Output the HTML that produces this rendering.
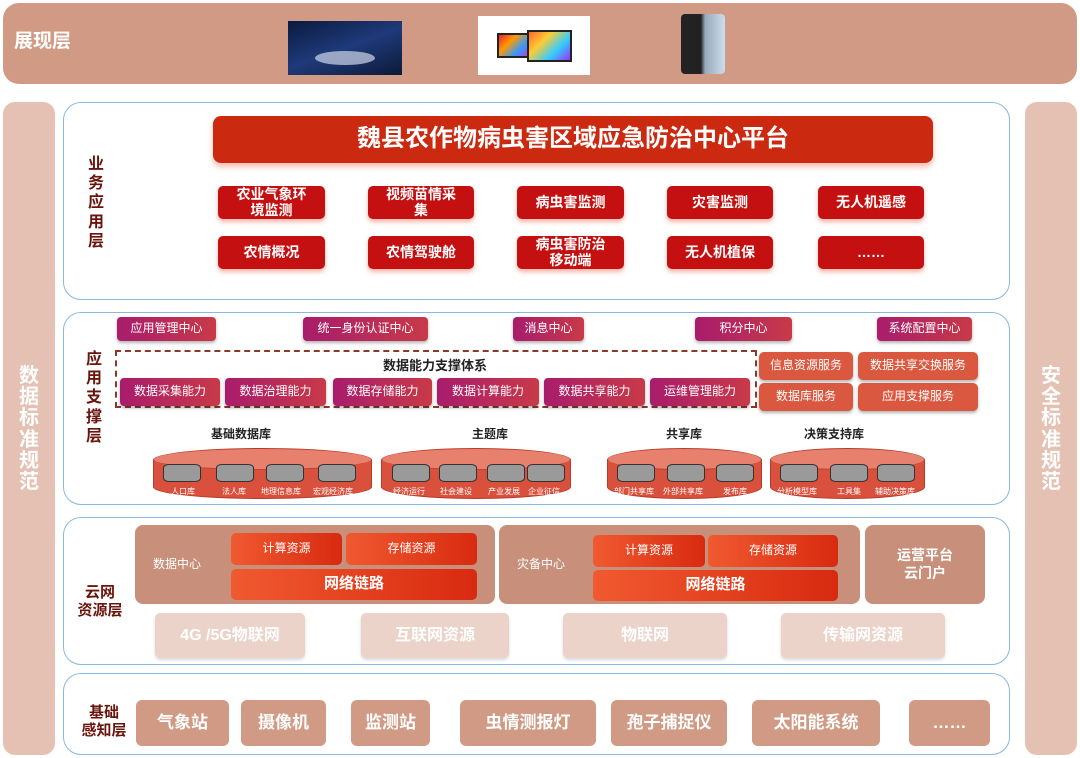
<!DOCTYPE html>
<html><head><meta charset="utf-8"><style>
*{margin:0;padding:0;box-sizing:border-box}
body{width:1080px;height:758px;background:#fff;position:relative;overflow:hidden;font-family:"Liberation Sans","Noto Sans CJK SC",sans-serif;font-weight:bold}
.a{position:absolute;display:flex;align-items:center;justify-content:center;text-align:center;line-height:1.1}
.lay{position:absolute;left:63px;width:947px;border:1.5px solid #8bb8e0;border-radius:18px;background:#fff}
.red{background:#c41010;color:#fff;border-radius:5px;font-size:14px;box-shadow:0 3px 5px rgba(230,90,60,.45)}
.mag{background:linear-gradient(90deg,#a81c6c,#c83a48);color:#fff;border-radius:4px;font-size:12px;font-weight:normal;box-shadow:0 2px 3px rgba(0,0,0,.3)}
.svc{background:#d9583f;color:#fff;border-radius:5px;font-size:12px;font-weight:normal;box-shadow:0 2px 3px rgba(0,0,0,.3)}
.or{background:linear-gradient(90deg,#f05a30,#d82a10);color:#fff;border-radius:5px;font-size:12px;font-weight:normal}
.lt{background:#ebd3c9;color:#fff;border-radius:5px;font-size:16px;box-shadow:0 2px 3px rgba(0,0,0,.15)}
.tan{background:#d09a84;color:#fff;border-radius:6px;font-size:17px}
.vl{position:absolute;color:#6a140c;font-size:16px;line-height:1.2;text-align:center}
.cyl{position:absolute;background:#d9503c;border-radius:50%/12px;border:1px solid #b83a2a}
.cyl:before{content:"";position:absolute;left:0;right:0;top:0;height:20px;border-radius:50%;background:#e8806e;border-bottom:1px solid #c24030}
.sc{position:absolute;width:38px;height:18px;background:#9a9a9a;border:1.5px solid #333;border-radius:6px/4px}
.sl{position:absolute;font-size:8px;color:#fff;font-weight:normal;white-space:nowrap}
</style></head><body>
<div class="a" style="left:3px;top:3px;width:1074px;height:81px;background:#d09a84;border-radius:16px"></div>
<div class="a" style="left:14px;top:32px;color:#fff;font-size:19px">展现层</div>
<div class="a" style="left:288px;top:21px;width:114px;height:54px;background:linear-gradient(160deg,#0a1a40,#1f3a7a 50%,#0c1a38)"><div style="width:60px;height:14px;background:#cfd7e8;border-radius:50%;opacity:.7;margin-top:20px"></div></div>
<div class="a" style="left:478px;top:16px;width:112px;height:59px;background:#fff"><div style="width:36px;height:25px;background:linear-gradient(135deg,#e23,#f90,#39f,#c3c);border:2px solid #222;margin-right:-6px"></div><div style="width:45px;height:32px;background:linear-gradient(135deg,#f63,#fc3,#3cf,#93f);border:2px solid #222"></div></div>
<div class="a" style="left:681px;top:14px;width:44px;height:60px;background:linear-gradient(90deg,#222 45%,#9ab 55%,#cde);border-radius:4px"></div>
<div style="position:absolute;left:3px;top:102px;width:52px;height:653px;background:#e5c1b3;border-radius:12px"></div>
<div style="position:absolute;left:1025px;top:102px;width:52px;height:653px;background:#e5c1b3;border-radius:12px"></div>
<div class="vl" style="left:17px;top:366px;width:24px;color:#fff;font-size:20px;line-height:1.06">数据标准规范</div>
<div class="vl" style="left:1039px;top:366px;width:24px;color:#fff;font-size:20px;line-height:1.06">安全标准规范</div>

<div class="lay" style="top:102px;height:198px"></div>
<div class="vl" style="left:86px;top:155px;width:20px">业务应用层</div>
<div class="a" style="left:213px;top:116px;width:720px;height:47px;background:#cc2a10;border-radius:8px;color:#fff;font-size:24px;box-shadow:0 4px 6px rgba(230,90,60,.4)">魏县农作物病虫害区域应急防治中心平台</div>
<div class="a red" style="left:218px;top:186px;width:107px;height:33px">农业气象环<br>境监测</div>
<div class="a red" style="left:368px;top:186px;width:106px;height:33px">视频苗情采<br>集</div>
<div class="a red" style="left:517px;top:186px;width:107px;height:33px">病虫害监测</div>
<div class="a red" style="left:667px;top:186px;width:106px;height:33px">灾害监测</div>
<div class="a red" style="left:818px;top:186px;width:106px;height:33px">无人机遥感</div>
<div class="a red" style="left:218px;top:236px;width:107px;height:33px">农情概况</div>
<div class="a red" style="left:368px;top:236px;width:106px;height:33px">农情驾驶舱</div>
<div class="a red" style="left:517px;top:236px;width:107px;height:33px">病虫害防治<br>移动端</div>
<div class="a red" style="left:667px;top:236px;width:106px;height:33px">无人机植保</div>
<div class="a red" style="left:818px;top:236px;width:106px;height:33px">……</div>

<div class="lay" style="top:312px;height:193px"></div>
<div class="vl" style="left:84px;top:350px;width:20px">应用支撑层</div>
<div class="a mag" style="left:117px;top:317px;width:99px;height:24px">应用管理中心</div>
<div class="a mag" style="left:303px;top:317px;width:125px;height:24px">统一身份认证中心</div>
<div class="a mag" style="left:513px;top:317px;width:71px;height:24px">消息中心</div>
<div class="a mag" style="left:695px;top:317px;width:97px;height:24px">积分中心</div>
<div class="a mag" style="left:877px;top:317px;width:95px;height:24px">系统配置中心</div>
<div style="position:absolute;left:115px;top:350px;width:642px;height:58px;border:2px dashed #8b3a2a"></div>
<div class="a" style="left:330px;top:358px;width:210px;height:16px;font-size:13px;color:#222">数据能力支撑体系</div>
<div class="a mag" style="left:120px;top:378px;width:100px;height:28px">数据采集能力</div>
<div class="a mag" style="left:225px;top:378px;width:101px;height:28px">数据治理能力</div>
<div class="a mag" style="left:333px;top:378px;width:99px;height:28px">数据存储能力</div>
<div class="a mag" style="left:437px;top:378px;width:102px;height:28px">数据计算能力</div>
<div class="a mag" style="left:544px;top:378px;width:101px;height:28px">数据共享能力</div>
<div class="a mag" style="left:650px;top:378px;width:100px;height:28px">运维管理能力</div>
<div class="a svc" style="left:759px;top:352px;width:94px;height:28px">信息资源服务</div>
<div class="a svc" style="left:858px;top:352px;width:120px;height:28px">数据共享交换服务</div>
<div class="a svc" style="left:759px;top:383px;width:94px;height:28px">数据库服务</div>
<div class="a svc" style="left:858px;top:383px;width:120px;height:28px">应用支撑服务</div>
<div class="a" style="left:191px;top:427px;width:100px;height:15px;font-size:12px;color:#222">基础数据库</div>
<div class="a" style="left:440px;top:427px;width:100px;height:15px;font-size:12px;color:#222">主题库</div>
<div class="a" style="left:634px;top:427px;width:100px;height:15px;font-size:12px;color:#222">共享库</div>
<div class="a" style="left:784px;top:427px;width:100px;height:15px;font-size:12px;color:#222">决策支持库</div>
<div class="cyl" style="left:153px;top:448px;width:219px;height:51px"></div>
<div class="cyl" style="left:381px;top:448px;width:190px;height:51px"></div>
<div class="cyl" style="left:607px;top:448px;width:155px;height:51px"></div>
<div class="cyl" style="left:770px;top:448px;width:155px;height:51px"></div>
<div class="sc" style="left:163px;top:464px"></div><div class="sl" style="left:171px;top:486px">人口库</div>
<div class="sc" style="left:216px;top:464px"></div><div class="sl" style="left:222px;top:486px">法人库</div>
<div class="sc" style="left:266px;top:464px"></div><div class="sl" style="left:261px;top:486px">地理信息库</div>
<div class="sc" style="left:318px;top:464px"></div><div class="sl" style="left:313px;top:486px">宏观经济库</div>
<div class="sc" style="left:392px;top:464px"></div><div class="sl" style="left:393px;top:486px">经济运行</div>
<div class="sc" style="left:439px;top:464px"></div><div class="sl" style="left:440px;top:486px">社会建设</div>
<div class="sc" style="left:487px;top:464px"></div><div class="sl" style="left:488px;top:486px">产业发展</div>
<div class="sc" style="left:527px;top:464px"></div><div class="sl" style="left:528px;top:486px">企业征信</div>
<div class="sc" style="left:617px;top:464px"></div><div class="sl" style="left:614px;top:486px">部门共享库</div>
<div class="sc" style="left:667px;top:464px"></div><div class="sl" style="left:663px;top:486px">外部共享库</div>
<div class="sc" style="left:716px;top:464px"></div><div class="sl" style="left:723px;top:486px">发布库</div>
<div class="sc" style="left:780px;top:464px"></div><div class="sl" style="left:777px;top:486px">分析模型库</div>
<div class="sc" style="left:830px;top:464px"></div><div class="sl" style="left:837px;top:486px">工具集</div>
<div class="sc" style="left:877px;top:464px"></div><div class="sl" style="left:875px;top:486px">辅助决策库</div>

<div class="lay" style="top:517px;height:148px"></div>
<div class="vl" style="left:74px;top:584px;width:52px;font-size:15px">云网<br>资源层</div>
<div style="position:absolute;left:135px;top:525px;width:360px;height:79px;background:#c8907a;border-radius:8px"></div>
<div class="a" style="left:145px;top:557px;width:64px;height:16px;color:#fff;font-size:12px;font-weight:normal">数据中心</div>
<div class="a or" style="left:231px;top:533px;width:111px;height:32px">计算资源</div>
<div class="a or" style="left:346px;top:533px;width:131px;height:32px">存储资源</div>
<div class="a or" style="left:231px;top:569px;width:246px;height:31px;font-size:15px;font-weight:bold">网络链路</div>
<div style="position:absolute;left:499px;top:525px;width:361px;height:79px;background:#c8907a;border-radius:8px"></div>
<div class="a" style="left:509px;top:557px;width:64px;height:16px;color:#fff;font-size:12px;font-weight:normal">灾备中心</div>
<div class="a or" style="left:593px;top:535px;width:112px;height:32px">计算资源</div>
<div class="a or" style="left:708px;top:535px;width:130px;height:32px">存储资源</div>
<div class="a or" style="left:593px;top:570px;width:245px;height:31px;font-size:15px;font-weight:bold">网络链路</div>
<div class="a" style="left:865px;top:525px;width:120px;height:79px;background:#c8907a;border-radius:8px;color:#fff;font-size:14px;line-height:1.25">运营平台<br>云门户</div>
<div class="a lt" style="left:155px;top:613px;width:150px;height:45px">4G /5G物联网</div>
<div class="a lt" style="left:361px;top:613px;width:148px;height:45px">互联网资源</div>
<div class="a lt" style="left:563px;top:613px;width:164px;height:45px">物联网</div>
<div class="a lt" style="left:781px;top:613px;width:164px;height:45px">传输网资源</div>

<div class="lay" style="top:673px;height:82px"></div>
<div class="vl" style="left:74px;top:704px;width:60px;font-size:15px">基础<br>感知层</div>
<div class="a tan" style="left:136px;top:700px;width:93px;height:46px">气象站</div>
<div class="a tan" style="left:241px;top:700px;width:85px;height:46px">摄像机</div>
<div class="a tan" style="left:351px;top:700px;width:79px;height:46px">监测站</div>
<div class="a tan" style="left:460px;top:700px;width:136px;height:46px">虫情测报灯</div>
<div class="a tan" style="left:611px;top:700px;width:116px;height:46px">孢子捕捉仪</div>
<div class="a tan" style="left:752px;top:700px;width:128px;height:46px">太阳能系统</div>
<div class="a tan" style="left:909px;top:700px;width:81px;height:46px">……</div>
</body></html>
